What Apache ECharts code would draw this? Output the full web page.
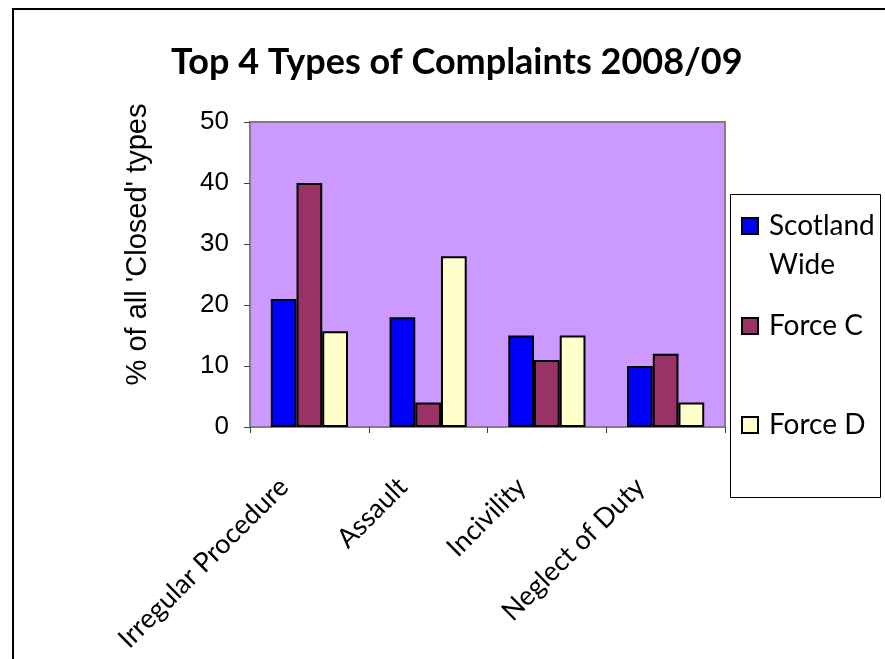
<!DOCTYPE html>
<html>
<head>
<meta charset="utf-8">
<script src="https://cdn.jsdelivr.net/npm/echarts@6/dist/echarts.min.js"></script>
<style>
html,body{margin:0;padding:0;background:#fff;}
#chart{width:885px;height:659px;}
</style>
</head>
<body>
<div id="chart"></div>
<script>
const titleText = "Top 4 Types of Complaints 2008/09";
const yAxisTitle = "% of all 'Closed' types";
const categories = ["Irregular Procedure", "Assault", "Incivility", "Neglect of Duty"];
const seriesNames = ["Scotland Wide", "Force C", "Force D"];
const scotlandWide = [21, 18, 15, 10];
const forceC = [40, 4, 11, 12];
const forceD = [15.7, 28, 15, 4];
const yTicks = { min: 0, max: 50, interval: 10 };
const colors = ["#0000FF", "#993366", "#FFFFCC"];

const chart = echarts.init(document.getElementById('chart'), null, { renderer: 'canvas' });
const calibri = "Lato, 'Open Sans', sans-serif";
const arial = "'Liberation Sans', Arial, sans-serif";

function mkSeries(name, data, color) {
  return {
    name: name,
    type: 'bar',
    data: data,
    barGap: '0%',
    barCategoryGap: '35%',
    itemStyle: { color: color, borderColor: '#000', borderWidth: 2 },
    emphasis: { disabled: true }
  };
}

function mkLegend(name, top) {
  return {
    data: [name],
    orient: 'vertical',
    left: 741,
    top: top,
    padding: 0,
    itemWidth: 16,
    itemHeight: 16,
    itemGap: 0,
    icon: 'rect',
    selectedMode: false,
    itemStyle: { borderColor: '#000', borderWidth: 2 },
    formatter: function (n) { return n === 'Scotland Wide' ? '\u00a0\nScotland\nWide' : n; },
    textStyle: {
      fontFamily: calibri, fontSize: 28, color: '#000',
      lineHeight: 39, padding: [0, 0, 0, 6]
    }
  };
}

chart.setOption({
  animation: false,
  backgroundColor: '#fff',
  title: {
    text: titleText,
    left: 171,
    top: 44,
    padding: 0,
    textStyle: { fontFamily: calibri, fontWeight: 'bold', fontSize: 36, color: '#000' }
  },
  legend: [
    mkLegend(seriesNames[0], 218 - 50.5),
    mkLegend(seriesNames[1], 318 - 11.5),
    mkLegend(seriesNames[2], 417 - 11.5)
  ],
  grid: {
    left: 250, top: 122, right: 160, bottom: 232,
    show: true, backgroundColor: '#CC99FF', borderColor: '#808080', borderWidth: 2
  },
  xAxis: {
    type: 'category',
    data: categories,
    boundaryGap: true,
    axisLine: { lineStyle: { color: '#808080', width: 2 } },
    axisTick: { show: true, length: 6, inside: false, lineStyle: { color: '#404040', width: 1 } },
    axisLabel: {
      interval: 0, rotate: 45, color: '#000',
      fontFamily: calibri, fontSize: 27,
      margin: 30, padding: [0, 36, 0, 0]
    }
  },
  yAxis: {
    type: 'value',
    min: yTicks.min, max: yTicks.max, interval: yTicks.interval,
    name: yAxisTitle,
    nameLocation: 'middle',
    nameRotate: 90,
    nameGap: 98,
    nameTextStyle: { fontFamily: arial, fontSize: 29, color: '#000', padding: [0, 0, 0, 60] },
    axisLine: { show: true, lineStyle: { color: '#808080', width: 2 } },
    axisTick: { show: true, length: 6, lineStyle: { color: '#404040', width: 1 } },
    splitLine: { show: false },
    axisLabel: { fontFamily: arial, fontSize: 26, color: '#000', margin: 21 }
  },
  graphic: [
    {
      type: 'rect', silent: true, z: 0,
      shape: { x: 13, y: 9, width: 900, height: 700 },
      style: { fill: null, stroke: '#000', lineWidth: 2 }
    },
    {
      type: 'rect', silent: true, z: 0,
      shape: { x: 730.5, y: 194.5, width: 150, height: 303 },
      style: { fill: '#fff', stroke: '#000', lineWidth: 1 }
    }
  ],
  series: [
    mkSeries(seriesNames[0], scotlandWide, colors[0]),
    mkSeries(seriesNames[1], forceC, colors[1]),
    mkSeries(seriesNames[2], forceD, colors[2])
  ]
});
</script>
</body>
</html>
